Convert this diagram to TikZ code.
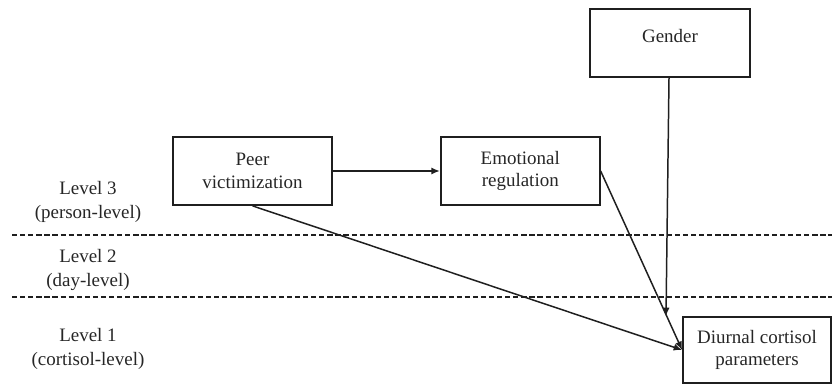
\documentclass[tikz,border=0pt]{standalone}
\usepackage{fontspec}
\setmainfont{LiberationSerif}[Extension=.ttf,UprightFont=*-Regular]
\usepackage{xcolor}
\definecolor{cLine}{HTML}{1F1F1F}
\definecolor{cText}{HTML}{262626}
\usetikzlibrary{positioning,arrows.meta,calc}
\tikzset{
  node-box/.style={draw=cLine,line width=1pt,minimum height=1.36cm,
    minimum width=3.18cm,align=center,text=cText,
    font=\rmfamily\fontsize{10.8}{13}\selectfont},
  node-level/.style={align=center,text=cText,
    font=\rmfamily\fontsize{10.8}{13.5}\selectfont},
  % levels are split by dashed rules
  level-rule/.style={line width=1pt,draw=cLine,dash pattern=on 3pt off 1.6pt},
  arrow/.style={-{Latex[length=1.7mm,width=1.4mm]},line width=0.85pt,draw=cLine},
}

\begin{document}
\begin{tikzpicture}
  \useasboundingbox (0,0) rectangle (16.64,7.72);
  \node[node-box] (peer) at (5.05,4.30) {Peer\\victimization};
  \node[node-box,right=2.14cm of peer] (emotion) {Emotional\\regulation};
  \node[node-box,minimum width=3.2cm] (gender) at (13.4,6.86) {\raisebox{0.28cm}{Gender}};
  \node[node-box,minimum width=2.96cm,minimum height=1.32cm] (cortisol) at (15.14,0.72) {Diurnal cortisol\\parameters};
  \node[node-level] (level3) at (1.76,3.68) {Level 3\\(person-level)};
  \node[node-level] (level2) at (1.76,2.32) {Level 2\\(day-level)};
  \node[node-level] (level1) at (1.76,0.74) {Level 1\\(cortisol-level)};
  \coordinate (rule3a) at (0.24,3.02);
  \coordinate (rule3b) at (16.64,3.02);
  \coordinate (rule2a) at (0.24,1.78);
  \coordinate (rule2b) at (16.64,1.78);
  \draw[level-rule] (rule3a) -- (rule3b);
  \draw[level-rule] (rule2a) -- (rule2b);
  \draw[arrow] (peer) -- (emotion);
  \draw[arrow] (peer.south) -- (cortisol.west);
  \draw[arrow] (emotion.east) -- (cortisol.west);
  \draw[arrow] ([xshift=-0.02cm]gender.south) -- ([xshift=-0.08cm]gender.south |- cortisol.north);
\end{tikzpicture}
\end{document}
